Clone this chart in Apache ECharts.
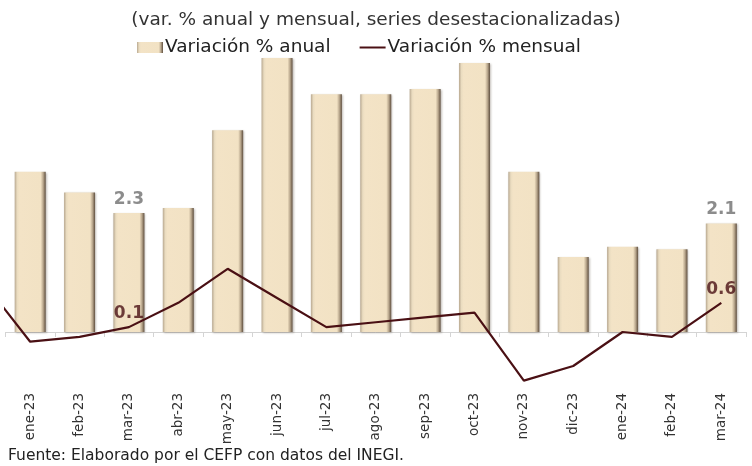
<!DOCTYPE html>
<html>
<head>
<meta charset="UTF-8">
<script src="https://cdn.jsdelivr.net/npm/echarts@6/dist/echarts.min.js"></script>
<style>
  html, body { margin: 0; padding: 0; background: #fff; }
  #chart { width: 752px; height: 466px; }
</style>
</head>
<body>
<div id="chart"></div>
<script>
// meses
const categories = ['ene-23', 'feb-23', 'mar-23', 'abr-23', 'may-23', 'jun-23', 'jul-23', 'ago-23',
  'sep-23', 'oct-23', 'nov-23', 'dic-23', 'ene-24', 'feb-24', 'mar-24']
// variación % anual (barras)
const anual = [3.1, 2.7, 2.3, 2.4, 3.9, 5.3, 4.6, 4.6, 4.7, 5.2, 3.1, 1.45, 1.65, 1.6, 2.1]
// variación % mensual (línea); el primer valor es dic-22, queda recortado en el borde
const mensualPrevio = 1.1
const mensual = [-0.2, -0.1, 0.1, 0.6, 1.3, 0.7, 0.1, 0.2, 0.3, 0.4, -1.0, -0.7, 0.0, -0.1, 0.6]
// etiquetas visibles
const etiquetas = [2, 14]

const font = '"DejaVu Sans", "Century Gothic", sans-serif'
const vino = '#4a1014'

const barData = anual.map((v, i) => ({
  value: v,
  label: { show: etiquetas.includes(i) }
}))

const lineData = [[-1, mensualPrevio]].concat(mensual.map((v, i) => [i, v]))
const lineLabels = etiquetas.map(i => [i, mensual[i]])

const chart = echarts.init(document.getElementById('chart'))

chart.setOption({
  backgroundColor: '#fff',
  animation: false,
  textStyle: { fontFamily: font },
  title: {
    text: '(var. % anual y mensual, series desestacionalizadas)',
    left: 'center',
    top: 6,
    textStyle: { fontSize: 18.5, fontWeight: 'normal', color: '#333', fontFamily: font }
  },
  legend: {
    top: 33,
    left: 132,
    itemGap: 28,
    itemWidth: 26,
    itemHeight: 11,
    textStyle: { fontSize: 18.5, color: '#222', fontFamily: font, padding: [0, 0, 0, -3] },
    data: [
      { name: 'Variación % anual', icon: 'rect' },
      { name: 'Variación % mensual', itemStyle: { opacity: 0 } }
    ]
  },
  graphic: [{
    type: 'text',
    left: 8,
    top: 448,
    style: {
      text: 'Fuente: Elaborado por el CEFP con datos del INEGI.',
      font: '15.5px ' + font,
      fill: '#222'
    }
  }],
  grid: { left: 5.5, right: 6, top: 47.6, bottom: 81, outerBoundsMode: 'none', containLabel: false },
  xAxis: [
    {
      type: 'category',
      data: categories,
      axisLine: { onZero: true, lineStyle: { color: '#d4d4d4', width: 1 } },
      axisTick: { show: true, lineStyle: { color: '#d4d4d4' } },
      axisLabel: { rotate: 90, margin: 8, fontSize: 13.5, color: '#333', fontFamily: font }
    },
    {
      type: 'value',
      min: -0.5,
      max: 14.5,
      show: false
    }
  ],
  yAxis: [
    { type: 'value', min: -1.025, max: 5.5, show: false, splitLine: { show: false } },
    { type: 'value', min: -1.091, max: 5.852, show: false, splitLine: { show: false } }
  ],
  series: [
    {
      name: 'Variación % anual',
      type: 'bar',
      barWidth: 31,
      data: barData,
      itemStyle: {
        color: {
          type: 'linear', x: 0, y: 0, x2: 1, y2: 0,
          colorStops: [
            { offset: 0, color: '#b8a890' },
            { offset: 0.08, color: '#eadcc0' },
            { offset: 0.15, color: '#f3e3c6' },
            { offset: 0.84, color: '#f2e2c4' },
            { offset: 0.92, color: '#b8a68c' },
            { offset: 1, color: '#5e4e3e' }
          ]
        },
        shadowColor: 'rgba(60,45,30,0.3)',
        shadowBlur: 2,
        shadowOffsetX: 1,
        shadowOffsetY: 1
      },
      label: {
        position: 'top',
        distance: 5,
        fontSize: 17,
        fontWeight: 'bold',
        color: '#8c8c8c',
        fontFamily: font
      },
      z: 2
    },
    {
      name: 'Variación % mensual',
      type: 'line',
      xAxisIndex: 1,
      yAxisIndex: 1,
      data: lineData,
      clip: true,
      symbol: 'none',
      lineStyle: { color: vino, width: 2.2 },
      itemStyle: { color: vino },
      z: 3
    },
    {
      type: 'scatter',
      xAxisIndex: 1,
      yAxisIndex: 1,
      data: lineLabels,
      symbolSize: 0,
      itemStyle: { color: vino },
      label: {
        show: true,
        position: 'top',
        distance: 5,
        fontSize: 17,
        fontWeight: 'bold',
        color: vino,
        fontFamily: font,
        formatter: p => p.value[1].toFixed(1)
      },
      z: 4
    }
  ]
})
</script>
</body>
</html>
